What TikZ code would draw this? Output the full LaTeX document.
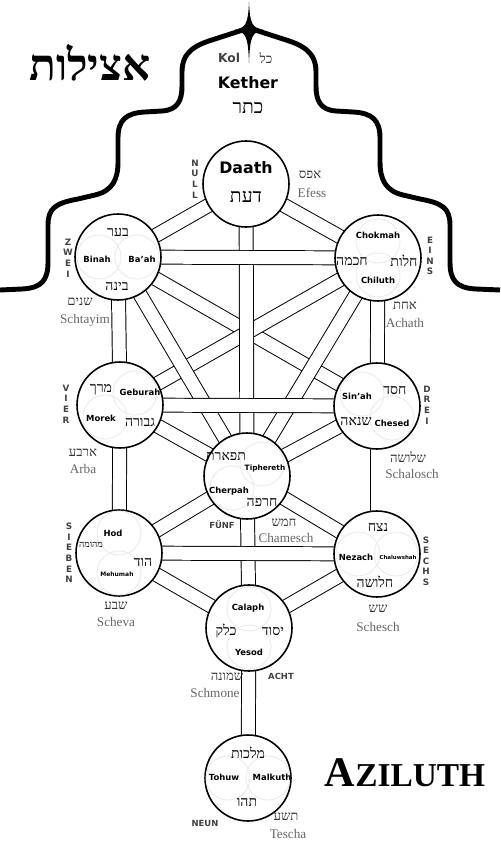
\documentclass[tikz,border=0pt]{standalone}
\usepackage{fontspec}
\setmainfont{Liberation Serif}
\setsansfont{DejaVu Sans}
\newfontfamily\hebfont[Script=Hebrew]{Liberation Serif}
\usetikzlibrary{calc,positioning,backgrounds}
\TeXXeTstate=1
\newcommand{\heb}[1]{{\hebfont\beginR #1\endR}}

\begin{document}
\begin{tikzpicture}[
    x=0.02cm, y=-0.02cm,
    sefira/.style={circle, draw, line width=0.9pt, fill=white, minimum size=1.72cm, inner sep=0pt},
    halo/.style={draw=black!8, line width=0.5pt},
    channel/.style={draw, line width=0.55pt, double=white, double distance=7.4pt},
    crown/.style={draw, line width=2.8pt, line join=round},
    title/.style={font=\fontsize{9}{10}\sffamily\bfseries, inner sep=0pt},
    nm/.style={font=\fontsize{4.8}{5}\sffamily\bfseries, inner sep=0pt},
    nmsm/.style={font=\fontsize{3.4}{4}\sffamily\bfseries, inner sep=0pt},
    hb/.style={font=\fontsize{8}{9}\selectfont, inner sep=0pt},
    hbsm/.style={font=\fontsize{5.2}{6}\selectfont, inner sep=0pt},
    hbbig/.style={font=\fontsize{11}{12}\selectfont, inner sep=0pt},
    num/.style={font=\fontsize{7.5}{8}\selectfont, text=black!60, inner sep=0pt},
    numheb/.style={font=\fontsize{7.5}{8}\selectfont, text=black!80, inner sep=0pt},
    vert/.style={font=\fontsize{5}{6}\sffamily\bfseries, align=center, text=black!75, inner sep=0pt},
    cnt/.style={font=\fontsize{4.8}{5}\sffamily\bfseries, text=black!75, inner sep=0pt}
  ]
  \useasboundingbox (0,0) rectangle (500,864);

  % Crown outline and spike
  \draw[crown] (0,290) -- (22,289) .. controls (42,288) and (48,280) .. (48,262) -- (48,225)
    .. controls (48,208) and (56,203) .. (78,199) -- (95,195) .. controls (112,191) and (118,180) .. (118,162)
    -- (118,138) .. controls (118,120) and (126,113) .. (145,112) -- (162,111) .. controls (178,110) and (182,100) .. (182,86)
    -- (182,72) .. controls (182,52) and (195,45) .. (215,39) -- (249,28)
    -- (283,39) .. controls (303,45) and (316,52) .. (316,72) -- (316,86) .. controls (316,100) and (320,110) .. (336,111)
    -- (353,112) .. controls (372,113) and (380,120) .. (380,138) -- (380,162) .. controls (380,180) and (386,191) .. (403,195)
    -- (420,199) .. controls (442,203) and (450,208) .. (450,225) -- (450,262) .. controls (450,280) and (456,288) .. (476,289) -- (500,290);
  \fill (249,2) .. controls (250,24) and (252,28) .. (264,30) .. controls (252,32) and (250,36) .. (249,63)
    .. controls (248,36) and (246,32) .. (234,30) .. controls (246,28) and (248,24) .. (249,2) -- cycle;

  % Sefirot
  \node[sefira] (daath) at (246,184) {};
  \node[sefira] (binah) at (118,257) {};
  \node[sefira] (chokmah) at (378,258) {};
  \node[sefira] (geburah) at (120,405) {};
  \node[sefira] (chesed) at (377,406) {};
  \node[sefira] (tiphereth) at (247,476) {};
  \node[sefira] (hod) at (119,553) {};
  \node[sefira] (nezach) at (377,554) {};
  \node[sefira] (yesod) at (249,628) {};
  \node[sefira] (malkuth) at (248,778) {};

  % Channels (behind the circles)
  \begin{scope}[on background layer]
    \foreach \a/\b in {daath/binah, daath/chokmah, binah/chesed, chokmah/geburah,
                       binah/tiphereth, chokmah/tiphereth, geburah/tiphereth, chesed/tiphereth,
                       tiphereth/hod, tiphereth/nezach, hod/yesod, nezach/yesod,
                       daath/tiphereth, binah/geburah, chokmah/chesed, geburah/hod,
                       chesed/nezach, tiphereth/yesod, yesod/malkuth,
                       binah/chokmah, geburah/chesed, hod/nezach}
      \draw[channel] (\a.center) -- (\b.center);
  \end{scope}

  % Faint inner circles
  \foreach \s/\dx/\dy in {binah/-19/0, binah/19/0, chokmah/0/-17, chokmah/0/17,
                          geburah/15/-12, geburah/-15/12, chesed/-15/-12, chesed/15/12,
                          tiphereth/15/-12, tiphereth/-15/12, hod/0/-20, hod/0/20,
                          nezach/-19/0, nezach/19/0, yesod/0/-19, yesod/0/19,
                          malkuth/-20/0, malkuth/20/0}
    \draw[halo] ($(\s)+(\dx,\dy)$) circle[radius=0.44cm];

  % Kether
  \node[cnt, font=\fontsize{7}{8}\sffamily\bfseries] (kol) at (229,58) {Kol};
  \node[numheb] (kolH) at (266,58) {\heb{כל}};
  \node[title] (ketherT) at (248,83) {Kether};
  \node[hbbig] (ketherH) at (248,108) {\heb{כתר}};

  % Daath
  \node[title] (daathT) at (246,168) {Daath};
  \node[hbbig] (daathH) at (246,197) {\heb{דעת}};
  \node[vert] (null) at (195,179) {N\\U\\L\\L};
  \node[numheb] (efessH) at (310,175) {\heb{אפס}};
  \node[num] (efess) at (312,193) {Efess};

  % Binah
  \node[hb] (binahH1) at (118,232) {\heb{בער}};
  \node[nm] (binahT) at (97,259) {Binah};
  \node[nm] (baah) at (142,259) {Ba'ah};
  \node[hb] (binahH2) at (117,286) {\heb{בינה}};
  \node[vert] (zwei) at (68,258) {Z\\W\\E\\I};
  \node[numheb] (zweiH) at (80,302) {\heb{שנים}};
  \node[num] (zweiT) at (85,320) {Schtayim};

  % Chokmah
  \node[nm] (chokmahT) at (378,235) {Chokmah};
  \node[hb] (chokmahH) at (352,261) {\heb{חכמה}};
  \node[hb] (chiluthH) at (404,261) {\heb{חלות}};
  \node[nm] (chiluth) at (378,280) {Chiluth};
  \node[vert] (eins) at (430,256) {E\\I\\N\\S};
  \node[numheb] (einsH) at (405,306) {\heb{אחת}};
  \node[num] (einsT) at (405,323) {Achath};

  % Geburah
  \node[hb] (morekH) at (101,390) {\heb{מרך}};
  \node[nm] (geburahT) at (140,392) {Geburah};
  \node[nm] (morek) at (101,418) {Morek};
  \node[hb] (geburahH) at (140,422) {\heb{גבורה}};
  \node[vert] (vier) at (66,404) {V\\I\\E\\R};
  \node[numheb] (vierH) at (83,453) {\heb{ארבע}};
  \node[num] (vierT) at (83,469) {Arba};

  % Chesed
  \node[nm] (sinah) at (357,396) {Sin'ah};
  \node[hb] (chesedH) at (395,390) {\heb{חסד}};
  \node[hb] (sinahH) at (356,421) {\heb{שנאה}};
  \node[nm] (chesedT) at (392,423) {Chesed};
  \node[vert] (drei) at (427,405) {D\\R\\E\\I};
  \node[numheb] (dreiH) at (408,457) {\heb{שלושה}};
  \node[num] (dreiT) at (412,474) {Schalosch};

  % Tiphereth
  \node[hb] (tipherethH) at (226,456) {\heb{תפארת}};
  \node[nmsm, font=\fontsize{4.2}{5}\sffamily\bfseries] (tipherethT) at (265,468) {Tiphereth};
  \node[nm] (cherpah) at (229,491) {Cherpah};
  \node[hb] (cherpahH) at (262,502) {\heb{חרפה}};
  \node[cnt] (fuenf) at (222,525) {FÜNF};
  \node[numheb] (fuenfH) at (284,523) {\heb{חמש}};
  \node[num] (fuenfT) at (286,538) {Chamesch};

  % Hod
  \node[nm] (hodT) at (113,533) {Hod};
  \node[hbsm] (mehumahH) at (91,545) {\heb{מהומה}};
  \node[hb] (hodH) at (143,562) {\heb{הוד}};
  \node[nmsm] (mehumah) at (117,574) {Mehumah};
  \node[vert] (sieben) at (69,553) {S\\I\\E\\B\\E\\N};
  \node[numheb] (siebenH) at (116,606) {\heb{שבע}};
  \node[num] (siebenT) at (116,622) {Scheva};

  % Nezach
  \node[hb] (nezachH) at (378,527) {\heb{נצח}};
  \node[nm] (nezachT) at (356,557) {Nezach};
  \node[nmsm, font=\fontsize{3.1}{4}\sffamily\bfseries] (chaluwshah) at (398,557) {Chaluwshah};
  \node[hb] (chaluwshahH) at (375,582) {\heb{חלושה}};
  \node[vert] (sechs) at (426,561) {S\\E\\C\\H\\S};
  \node[numheb] (sechsH) at (378,609) {\heb{שש}};
  \node[num] (sechsT) at (378,627) {Schesch};

  % Yesod
  \node[nm] (calaph) at (248,608) {Calaph};
  \node[hb] (calaphH) at (226,631) {\heb{כלק}};
  \node[hb] (yesodH) at (273,631) {\heb{יסוד}};
  \node[nm] (yesodT) at (249,652) {Yesod};
  \node[numheb] (achtH) at (227,677) {\heb{שמונה}};
  \node[num] (achtT) at (215,693) {Schmone};
  \node[cnt] (acht) at (281,676) {ACHT};

  % Malkuth
  \node[hb] (malkuthH) at (248,753) {\heb{מלכות}};
  \node[nm] (tohuw) at (224,777) {Tohuw};
  \node[nm] (malkuthT) at (272,777) {Malkuth};
  \node[hb] (tohuwH) at (247,802) {\heb{תהו}};
  \node[cnt] (neun) at (205,823) {NEUN};
  \node[numheb] (neunH) at (286,817) {\heb{תשע}};
  \node[num] (neunT) at (288,834) {Tescha};

  % World names
  \node[font=\fontsize{25}{27}\bfseries, inner sep=0pt] (atziluthH) at (90,63) {\heb{אצילות}};
  \node[font=\bfseries, inner sep=0pt] (aziluth) at (405,773)
    {\fontsize{24}{24}\selectfont A\fontsize{19}{19}\selectfont ZILUTH};

\end{tikzpicture}
\end{document}
